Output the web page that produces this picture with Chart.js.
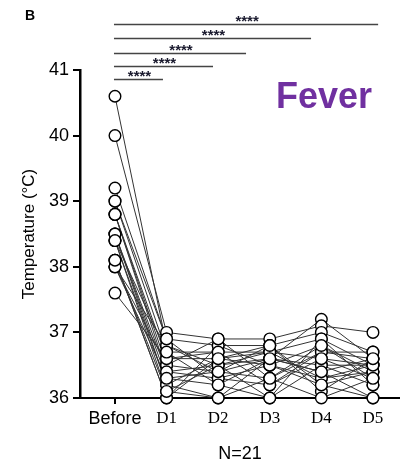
<!DOCTYPE html>
<html><head><meta charset="utf-8">
<script src="https://cdn.jsdelivr.net/npm/chart.js@4/dist/chart.umd.min.js"></script>
<style>html,body{margin:0;padding:0;background:#fff}#c{display:block}</style>
</head><body>
<canvas id="c" width="400" height="465"></canvas>
<script>
const categories = ["Before", "D1", "D2", "D3", "D4", "D5"];
const yTicks = [36, 37, 38, 39, 40, 41];
const before = [40.6, 40.0, 39.2, 39.0, 38.8, 38.8, 38.5, 38.5, 38.4, 38.4, 38.1, 38.1, 38.0, 38.0, 37.6, 39.0, 38.8, 38.5, 38.4, 38.0, 38.1];
const d1 = [36.8, 37.0, 36.9, 36.7, 36.6, 36.5, 36.4, 36.3, 36.2, 36.1, 36.0, 36.0, 36.5, 36.8, 36.6, 36.9, 36.4, 36.2, 36.7, 36.3, 36.1];
const d2 = [36.5, 36.9, 36.8, 36.7, 36.6, 36.4, 36.3, 36.2, 36.0, 36.5, 36.8, 36.6, 36.9, 36.4, 36.7, 36.3, 36.5, 36.6, 36.2, 36.4, 36.0];
const d3 = [36.6, 36.9, 36.8, 36.7, 36.5, 36.3, 36.2, 36.0, 36.6, 36.7, 36.5, 36.8, 36.3, 36.6, 36.2, 36.5, 36.0, 36.7, 36.6, 36.8, 36.3];
const d4 = [37.2, 37.1, 37.0, 36.9, 36.8, 36.7, 36.6, 36.5, 36.4, 36.3, 36.2, 36.1, 36.0, 36.5, 36.7, 36.3, 36.9, 36.6, 36.4, 36.2, 36.8];
const d5 = [36.6, 37.0, 36.7, 36.5, 36.4, 36.6, 36.3, 36.2, 36.0, 36.5, 36.4, 36.6, 36.3, 36.5, 36.7, 36.4, 36.2, 36.5, 36.6, 36.0, 36.3];
const sigEnds = [0.93, 1.9, 2.54, 3.8, 5.1];
const sigLabels = ["****", "****", "****", "****", "****"];

const columns = [before, d1, d2, d3, d4, d5];
const datasets = [];
for (let s = 0; s < before.length; s++) {
  datasets.push({
    data: columns.map((col, i) => ({x: i, y: col[s]})),
    showLine: true, borderColor: '#333', borderWidth: 1, pointRadius: 0, pointHoverRadius: 0,
    clip: false, order: 1
  });
}
const allPts = [];
columns.forEach((col, i) => col.forEach(v => allPts.push({x: i, y: v})));
datasets.push({
  data: allPts, showLine: false, pointRadius: 5.8, pointHoverRadius: 5.8,
  pointBackgroundColor: '#fff', pointBorderColor: '#000', pointBorderWidth: 1.4,
  clip: false, order: 0
});

const annot = {
  id: 'annot',
  afterDraw(chart) {
    const ctx = chart.ctx, xs = chart.scales.x;
    ctx.save();
    ctx.fillStyle = '#000';
    ctx.font = 'bold 14px Arial, "Liberation Sans"';
    ctx.textBaseline = 'alphabetic';
    ctx.fillText('B', 25, 20);
    ctx.fillStyle = '#7030a0';
    ctx.font = 'bold 36px Arial, "Liberation Sans"';
    ctx.fillText('Fever', 276, 108);
    const ys = [79, 66, 53, 38, 24];
    const x0 = xs.getPixelForValue(0) - 1;
    for (let k = 0; k < sigEnds.length; k++) {
      const x1 = xs.getPixelForValue(sigEnds[k]);
      ctx.strokeStyle = '#444'; ctx.lineWidth = 1.3;
      ctx.beginPath(); ctx.moveTo(x0, ys[k] + 0.5); ctx.lineTo(x1, ys[k] + 0.5); ctx.stroke();
      ctx.fillStyle = '#1a1a2e';
      ctx.font = 'bold 15px Arial, "Liberation Sans"';
      ctx.textAlign = 'center';
      ctx.fillText(sigLabels[k], (x0 + x1) / 2 + 1, ys[k] + 2);
    }
    ctx.restore();
  }
};

new Chart(document.getElementById('c'), {
  type: 'scatter',
  data: {datasets},
  options: {
    responsive: false, animation: false, devicePixelRatio: 1,
    layout: {autoPadding: false, padding: {top: 70, right: 0, left: 0, bottom: 0}},
    plugins: {legend: {display: false}, tooltip: {enabled: false}},
    scales: {
      x: {
        type: 'linear', min: -0.678, max: 5.524,
        afterBuildTicks(sc) { sc.ticks = categories.map((c, i) => ({value: i})); },
        afterFit(sc) { sc.height = 67; },
        border: {display: true, color: '#000', width: 2},
        grid: {drawOnChartArea: false, drawTicks: true, tickLength: 6, color: '#000', lineWidth: 2},
        ticks: {
          color: '#000', padding: 4, maxRotation: 0, autoSkip: false,
          font: (c) => (c.tick && c.tick.value === 0) ? {family: 'Arial, "Liberation Sans"', size: 18} : {family: '"Times New Roman", "Liberation Serif"', size: 17},
          callback: (v) => categories[v]
        },
        title: {display: true, text: 'N=21', color: '#000', font: {family: 'Arial, "Liberation Sans"', size: 18}, padding: {top: 10, bottom: 0}}
      },
      y: {
        min: 36, max: 41,
        afterBuildTicks(sc) { sc.ticks = yTicks.map(v => ({value: v})); },
        afterFit(sc) { sc.width = 80; },
        border: {display: true, color: '#000', width: 2.5},
        grid: {drawOnChartArea: false, drawTicks: true, tickLength: 7, color: '#000', lineWidth: 2},
        ticks: {color: '#000', padding: 4, font: {family: 'Arial, "Liberation Sans"', size: 18}},
        title: {display: true, text: 'Temperature (°C)', color: '#000', font: {family: 'Arial, "Liberation Sans"', size: 17}, padding: {top: 19, bottom: 4}}
      }
    }
  },
  plugins: [annot]
});
</script>
</body></html>
